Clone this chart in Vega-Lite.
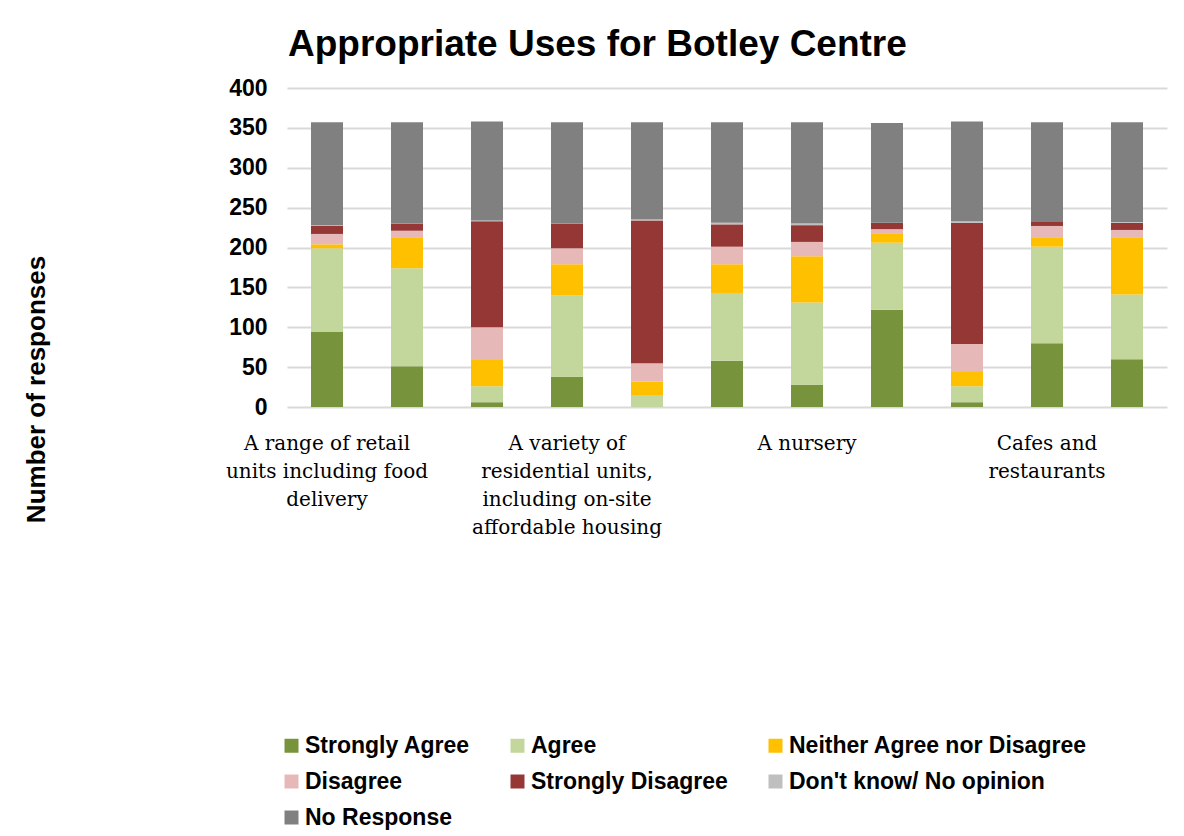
{
  "$schema": "https://vega.github.io/schema/vega-lite/v6.json",
  "autosize": "none",
  "width": 880,
  "height": 319,
  "padding": {"left": 287, "top": 88, "right": 17, "bottom": 429},
  "background": "white",
  "title": {
    "text": "Appropriate Uses for Botley Centre",
    "anchor": "start",
    "frame": "group",
    "font": "Liberation Sans",
    "fontSize": 37,
    "fontWeight": "bold",
    "color": "#000000",
    "baseline": "alphabetic",
    "offset": -16,
    "dx": 1
  },
  "data": {
    "values": [
      {"bar": 1, "response": "Strongly Agree", "n": 94},
      {"bar": 1, "response": "Agree", "n": 105},
      {"bar": 1, "response": "Neither Agree nor Disagree", "n": 5},
      {"bar": 1, "response": "Disagree", "n": 13},
      {"bar": 1, "response": "Strongly Disagree", "n": 10},
      {"bar": 1, "response": "Don't know/ No opinion", "n": 1},
      {"bar": 1, "response": "No Response", "n": 129},
      {"bar": 2, "response": "Strongly Agree", "n": 51},
      {"bar": 2, "response": "Agree", "n": 123},
      {"bar": 2, "response": "Neither Agree nor Disagree", "n": 38},
      {"bar": 2, "response": "Disagree", "n": 9},
      {"bar": 2, "response": "Strongly Disagree", "n": 9},
      {"bar": 2, "response": "Don't know/ No opinion", "n": 0},
      {"bar": 2, "response": "No Response", "n": 127},
      {"bar": 3, "response": "Strongly Agree", "n": 6},
      {"bar": 3, "response": "Agree", "n": 20},
      {"bar": 3, "response": "Neither Agree nor Disagree", "n": 34},
      {"bar": 3, "response": "Disagree", "n": 40},
      {"bar": 3, "response": "Strongly Disagree", "n": 133},
      {"bar": 3, "response": "Don't know/ No opinion", "n": 1},
      {"bar": 3, "response": "No Response", "n": 124},
      {"bar": 4, "response": "Strongly Agree", "n": 38},
      {"bar": 4, "response": "Agree", "n": 102},
      {"bar": 4, "response": "Neither Agree nor Disagree", "n": 39},
      {"bar": 4, "response": "Disagree", "n": 20},
      {"bar": 4, "response": "Strongly Disagree", "n": 31},
      {"bar": 4, "response": "Don't know/ No opinion", "n": 0},
      {"bar": 4, "response": "No Response", "n": 127},
      {"bar": 5, "response": "Strongly Agree", "n": 0},
      {"bar": 5, "response": "Agree", "n": 15},
      {"bar": 5, "response": "Neither Agree nor Disagree", "n": 17},
      {"bar": 5, "response": "Disagree", "n": 23},
      {"bar": 5, "response": "Strongly Disagree", "n": 179},
      {"bar": 5, "response": "Don't know/ No opinion", "n": 1},
      {"bar": 5, "response": "No Response", "n": 122},
      {"bar": 6, "response": "Strongly Agree", "n": 58},
      {"bar": 6, "response": "Agree", "n": 85},
      {"bar": 6, "response": "Neither Agree nor Disagree", "n": 36},
      {"bar": 6, "response": "Disagree", "n": 22},
      {"bar": 6, "response": "Strongly Disagree", "n": 28},
      {"bar": 6, "response": "Don't know/ No opinion", "n": 2},
      {"bar": 6, "response": "No Response", "n": 126},
      {"bar": 7, "response": "Strongly Agree", "n": 28},
      {"bar": 7, "response": "Agree", "n": 103},
      {"bar": 7, "response": "Neither Agree nor Disagree", "n": 58},
      {"bar": 7, "response": "Disagree", "n": 18},
      {"bar": 7, "response": "Strongly Disagree", "n": 21},
      {"bar": 7, "response": "Don't know/ No opinion", "n": 2},
      {"bar": 7, "response": "No Response", "n": 127},
      {"bar": 8, "response": "Strongly Agree", "n": 122},
      {"bar": 8, "response": "Agree", "n": 84},
      {"bar": 8, "response": "Neither Agree nor Disagree", "n": 11},
      {"bar": 8, "response": "Disagree", "n": 6},
      {"bar": 8, "response": "Strongly Disagree", "n": 8},
      {"bar": 8, "response": "Don't know/ No opinion", "n": 0},
      {"bar": 8, "response": "No Response", "n": 125},
      {"bar": 9, "response": "Strongly Agree", "n": 6},
      {"bar": 9, "response": "Agree", "n": 20},
      {"bar": 9, "response": "Neither Agree nor Disagree", "n": 19},
      {"bar": 9, "response": "Disagree", "n": 34},
      {"bar": 9, "response": "Strongly Disagree", "n": 152},
      {"bar": 9, "response": "Don't know/ No opinion", "n": 2},
      {"bar": 9, "response": "No Response", "n": 125},
      {"bar": 10, "response": "Strongly Agree", "n": 80},
      {"bar": 10, "response": "Agree", "n": 121},
      {"bar": 10, "response": "Neither Agree nor Disagree", "n": 11},
      {"bar": 10, "response": "Disagree", "n": 15},
      {"bar": 10, "response": "Strongly Disagree", "n": 5},
      {"bar": 10, "response": "Don't know/ No opinion", "n": 0},
      {"bar": 10, "response": "No Response", "n": 125},
      {"bar": 11, "response": "Strongly Agree", "n": 60},
      {"bar": 11, "response": "Agree", "n": 81},
      {"bar": 11, "response": "Neither Agree nor Disagree", "n": 71},
      {"bar": 11, "response": "Disagree", "n": 10},
      {"bar": 11, "response": "Strongly Disagree", "n": 9},
      {"bar": 11, "response": "Don't know/ No opinion", "n": 1},
      {"bar": 11, "response": "No Response", "n": 125}
    ]
  },
  "transform": [
    {"calculate": "indexof(['Strongly Agree','Agree','Neither Agree nor Disagree','Disagree','Strongly Disagree','Don\\'t know/ No opinion','No Response'], datum.response)", "as": "ord"}
  ],
  "mark": {"type": "bar"},
  "encoding": {
    "x": {
      "field": "bar",
      "type": "ordinal",
      "scale": {"paddingInner": 0.6, "paddingOuter": 0.3},
      "axis": {
        "title": null,
        "domain": false,
        "ticks": false,
        "tickSize": 0,
        "labelAngle": 0,
        "labelOverlap": false,
        "labelLimit": 0,
        "labelFont": "DejaVu Serif",
        "labelFontSize": 20,
        "labelColor": "#000000",
        "labelLineHeight": 28,
        "labelBaseline": "top",
        "labelPadding": 26,
        "labelExpr": "datum.value == 1 ? ['A range of retail', 'units including food', 'delivery'] : datum.value == 4 ? ['A variety of', 'residential units,', 'including on-site', 'affordable housing'] : datum.value == 7 ? ['A nursery'] : datum.value == 10 ? ['Cafes and', 'restaurants'] : ''"
      }
    },
    "y": {
      "field": "n",
      "type": "quantitative",
      "stack": "zero",
      "scale": {"domain": [0, 400], "nice": false},
      "axis": {
        "values": [0, 50, 100, 150, 200, 250, 300, 350, 400],
        "title": "Number of responses",
        "titleFont": "Liberation Sans",
        "titleFontSize": 26,
        "titleFontWeight": "bold",
        "titleColor": "#000000",
        "titleAngle": 270,
        "titleAlign": "center",
        "titleBaseline": "middle",
        "titleX": -251,
        "titleY": 301,
        "domain": false,
        "ticks": false,
        "tickSize": 0,
        "labelFont": "Liberation Sans",
        "labelFontSize": 23,
        "labelFontWeight": "bold",
        "labelColor": "#000000",
        "labelPadding": 20,
        "grid": true,
        "gridColor": "#d9d9d9",
        "gridWidth": 2
      }
    },
    "color": {
      "field": "response",
      "type": "nominal",
      "sort": ["Strongly Agree", "Agree", "Neither Agree nor Disagree", "Disagree", "Strongly Disagree", "Don't know/ No opinion", "No Response"],
      "scale": {
        "domain": ["Strongly Agree", "Agree", "Neither Agree nor Disagree", "Disagree", "Strongly Disagree", "Don't know/ No opinion", "No Response"],
        "range": ["#77933C", "#C3D69B", "#FFC000", "#E6B9B8", "#953735", "#BFBFBF", "#808080"]
      },
      "legend": {
        "title": null,
        "orient": "none",
        "legendX": -7,
        "legendY": 646,
        "direction": "horizontal",
        "columns": 3,
        "columnPadding": 36,
        "rowPadding": 12,
        "padding": 0,
        "symbolType": "square",
        "symbolSize": 196,
        "symbolStrokeWidth": 0,
        "labelOffset": 2,
        "labelFont": "Liberation Sans",
        "labelFontSize": 23,
        "labelFontWeight": "bold",
        "labelColor": "#000000",
        "labelLimit": 0
      }
    },
    "order": {"field": "ord", "type": "quantitative", "sort": "ascending"}
  },
  "config": {
    "view": {"stroke": null},
    "legend": {"symbolOpacity": 1}
  }
}
